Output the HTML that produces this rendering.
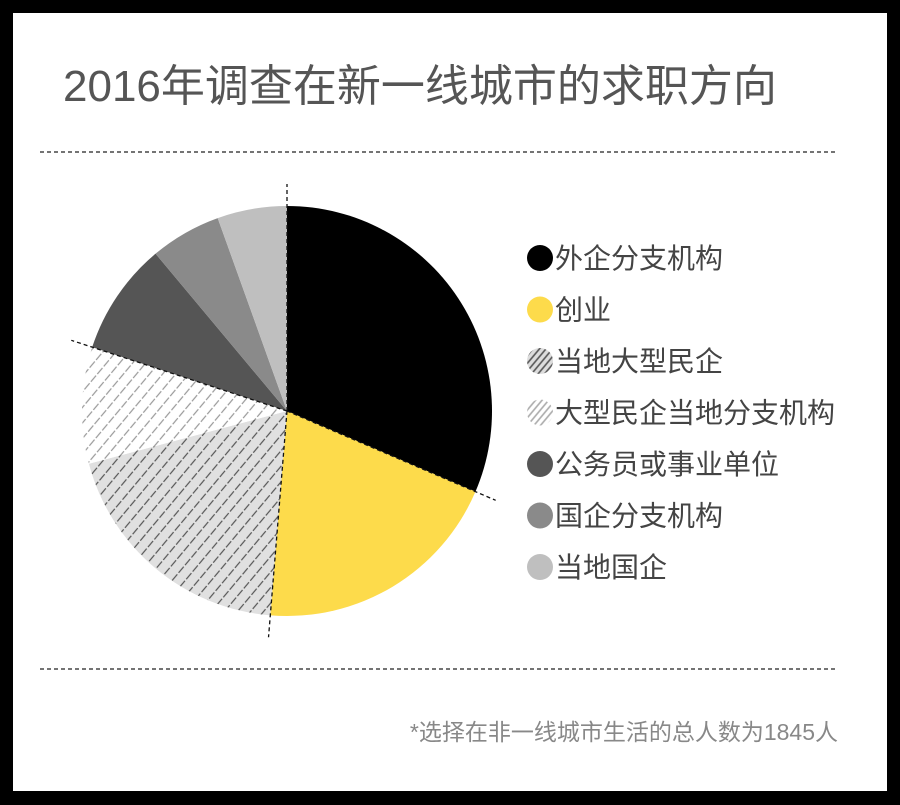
<!DOCTYPE html>
<html><head><meta charset="utf-8">
<style>
html,body{margin:0;padding:0;background:#000;}
#card{position:absolute;left:13px;top:13px;width:874px;height:778px;background:#fff;}
svg{position:absolute;left:0;top:0;}
text{font-family:"Liberation Sans","Noto Sans CJK SC",sans-serif;}
</style></head>
<body>
<div id="card"></div>
<svg id="chart" width="900" height="805">
<defs>
<pattern id="hatchDark" patternUnits="userSpaceOnUse" width="10" height="10" patternTransform="rotate(40)">
<rect width="10" height="10" fill="#e0e0e0"/>
<line x1="5" y1="0" x2="5" y2="10" stroke="#555" stroke-width="1.2" stroke-dasharray="4 2"/>
</pattern>
<pattern id="hatchLight" patternUnits="userSpaceOnUse" width="10" height="10" patternTransform="rotate(40)">
<rect width="10" height="10" fill="#fff"/>
<line x1="5" y1="0" x2="5" y2="10" stroke="#999" stroke-width="1.2" stroke-dasharray="4 2"/>
</pattern>
<pattern id="legDark" patternUnits="userSpaceOnUse" width="5" height="5" patternTransform="rotate(40)">
<rect width="5" height="5" fill="#ddd"/>
<line x1="2.5" y1="0" x2="2.5" y2="5" stroke="#555" stroke-width="1.6"/>
</pattern>
<pattern id="legLight" patternUnits="userSpaceOnUse" width="5" height="5" patternTransform="rotate(40)">
<rect width="5" height="5" fill="#fff"/>
<line x1="2.5" y1="0" x2="2.5" y2="5" stroke="#aaa" stroke-width="1.6"/>
</pattern>
</defs>
<text x="63" y="101" font-size="44" fill="#555">2016年调查在新一线城市的求职方向</text>
<line x1="40" y1="152" x2="838" y2="152" stroke="#222" stroke-width="1.3" stroke-dasharray="4 3"/>
<line x1="40" y1="669" x2="838" y2="669" stroke="#222" stroke-width="1.3" stroke-dasharray="4 3"/>
<text x="838" y="740" font-size="23" fill="#888" text-anchor="end">*选择在非一线城市生活的总人数为1845人</text>
<g id="slices"></g>
<g id="guides"></g>
<g id="legend"></g>
</svg>
<script>
const categories = ["外企分支机构","创业","当地大型民企","大型民企当地分支机构","公务员或事业单位","国企分支机构","当地国企"];
const values = [31.5, 19.9, 19.6, 9.2, 8.9, 5.6, 5.5];
const fills = ["#000000","#fddb4b","url(#hatchDark)","url(#hatchLight)","#555555","#8a8a8a","#bfbfbf"];
const legendFills = ["#000000","#fddb4b","url(#legDark)","url(#legLight)","#555555","#8a8a8a","#bfbfbf"];
const guideAfter = [0,1,3]; // dashed separators after these slice indexes, plus start
const NS = "http://www.w3.org/2000/svg";
const cx = 287, cy = 411, R = 205;
const total = values.reduce((a,b)=>a+b,0);
function angleOf(v){ return v/total*2*Math.PI; }
function pt(a, r){ return [cx + r*Math.sin(a), cy - r*Math.cos(a)]; }
const slicesG = document.getElementById('slices');
const guidesG = document.getElementById('guides');
const legendG = document.getElementById('legend');
let acc = 0;
const bounds = [0];
values.forEach((v,i)=>{
  const a0 = angleOf(acc), a1 = angleOf(acc+v);
  const p0 = pt(a0,R), p1 = pt(a1,R);
  const large = (a1-a0) > Math.PI ? 1 : 0;
  const p = document.createElementNS(NS,'path');
  p.setAttribute('d', `M${cx},${cy} L${p0[0]},${p0[1]} A${R},${R} 0 ${large} 1 ${p1[0]},${p1[1]} Z`);
  p.setAttribute('fill', fills[i]);
  
  
  slicesG.appendChild(p);
  acc += v;
  bounds.push(acc);
});
// guides: at start (0), after slice 0, after slice 1, after slice 3
const guideVals = [0, bounds[1], bounds[2], bounds[4]];
guideVals.forEach((v,i)=>{
  const a = angleOf(v);
  const e = pt(a, R+22);
  const l = document.createElementNS(NS,'line');
  l.setAttribute('x1', cx); l.setAttribute('y1', cy);
  l.setAttribute('x2', e[0]); l.setAttribute('y2', e[1]);
  l.setAttribute('stroke', '#111');
  l.setAttribute('stroke-width', '1.3');
  l.setAttribute('stroke-dasharray', '4 3');
  
  
  guidesG.appendChild(l);
});
categories.forEach((c,i)=>{
  const y = 258 + i*51.5;
  const g = document.createElementNS(NS,'g');
  
  
  const ci = document.createElementNS(NS,'circle');
  ci.setAttribute('cx', 540); ci.setAttribute('cy', y); ci.setAttribute('r', 13);
  ci.setAttribute('fill', legendFills[i]);
  
  
  const t = document.createElementNS(NS,'text');
  t.setAttribute('x', 555); t.setAttribute('y', y + 10);
  t.setAttribute('font-size', '28'); t.setAttribute('fill', '#444');
  
  
  t.textContent = c;
  g.appendChild(ci); g.appendChild(t);
  legendG.appendChild(g);
});
</script>
</body></html>
